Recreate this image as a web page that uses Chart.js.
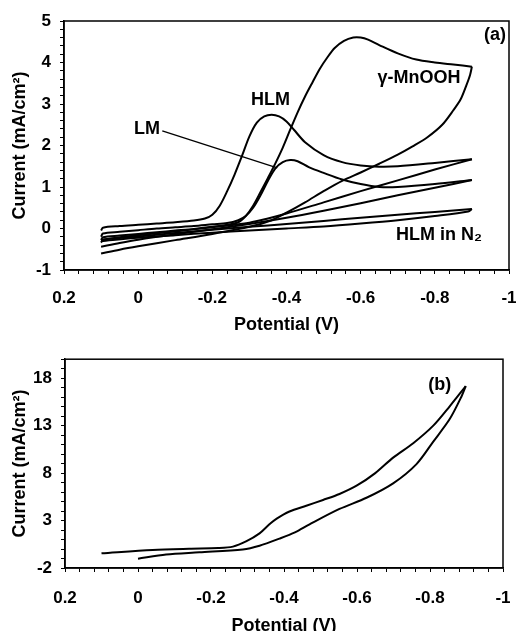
<!DOCTYPE html>
<html>
<head>
<meta charset="utf-8">
<script src="https://cdn.jsdelivr.net/npm/chart.js@4.4.1/dist/chart.umd.min.js"></script>
<style>
  html, body { margin: 0; padding: 0; background: #fff; overflow: hidden; width: 516px; height: 631px; }
  #wrapA { position: absolute; left: 0; top: 0; }
  #wrapB { position: absolute; left: 0; top: 340px; }
</style>
</head>
<body>
<div id="wrapA"><canvas id="chartA" width="516" height="340"></canvas></div>
<div id="wrapB"><canvas id="chartB" width="516" height="300"></canvas></div>
<script>
// ---- panel (a): cyclic voltammograms, potential (V) vs current (mA/cm2) ----
// HLM
const hlmCathV = [0.1, 0.095, 0.05, 0, -0.05, -0.1, -0.15, -0.18, -0.2, -0.22, -0.24, -0.26, -0.28, -0.3, -0.32, -0.34, -0.36, -0.38, -0.4, -0.42, -0.45, -0.5, -0.55, -0.6, -0.65, -0.7, -0.8, -0.9];
const hlmCathI = [-0.05, 0.02, 0.06, 0.09, 0.12, 0.15, 0.19, 0.24, 0.33, 0.55, 0.9, 1.3, 1.75, 2.22, 2.55, 2.7, 2.74, 2.7, 2.58, 2.38, 2.08, 1.77, 1.6, 1.52, 1.49, 1.5, 1.58, 1.67];
const hlmAnodV = [-0.9, -0.8, -0.7, -0.6, -0.5, -0.4, -0.35, -0.3, -0.2, -0.1, 0, 0.05, 0.1];
const hlmAnodI = [1.67, 1.42, 1.16, 0.9, 0.63, 0.36, 0.24, 0.14, 0.03, -0.07, -0.16, -0.21, -0.27];
// LM
const lmCathV = [0.1, 0.095, 0.05, 0, -0.05, -0.1, -0.15, -0.2, -0.24, -0.27, -0.29, -0.31, -0.33, -0.35, -0.37, -0.39, -0.41, -0.43, -0.46, -0.5, -0.55, -0.6, -0.65, -0.7, -0.8, -0.9];
const lmCathI = [-0.2, -0.12, -0.08, -0.04, 0.0, 0.03, 0.06, 0.1, 0.13, 0.2, 0.3, 0.5, 0.8, 1.15, 1.45, 1.6, 1.65, 1.62, 1.48, 1.34, 1.18, 1.07, 1.0, 1.0, 1.07, 1.17];
const lmAnodV = [-0.9, -0.8, -0.7, -0.6, -0.5, -0.4, -0.3, -0.2, -0.1, 0, 0.05, 0.1];
const lmAnodI = [1.17, 0.98, 0.8, 0.61, 0.43, 0.26, 0.11, -0.02, -0.14, -0.27, -0.35, -0.44];
// gamma-MnOOH
const mnCathV = [0.1, 0.095, 0.05, 0, -0.05, -0.1, -0.15, -0.2, -0.24, -0.27, -0.29, -0.31, -0.33, -0.35, -0.37, -0.39, -0.41, -0.43, -0.45, -0.47, -0.49, -0.51, -0.53, -0.555, -0.58, -0.6, -0.62, -0.65, -0.7, -0.75, -0.8, -0.85, -0.9];
const mnCathI = [-0.28, -0.21, -0.17, -0.13, -0.09, -0.05, -0.01, 0.04, 0.09, 0.15, 0.3, 0.55, 0.88, 1.22, 1.57, 1.95, 2.38, 2.8, 3.18, 3.52, 3.85, 4.12, 4.35, 4.52, 4.6, 4.6, 4.55, 4.42, 4.22, 4.07, 4.0, 3.95, 3.9];
const mnAnodV = [-0.9, -0.895, -0.885, -0.87, -0.85, -0.82, -0.78, -0.74, -0.7, -0.65, -0.6, -0.55, -0.5, -0.45, -0.4, -0.36, -0.3, -0.2, -0.1, 0, 0.05, 0.1];
const mnAnodI = [3.9, 3.7, 3.45, 3.12, 2.85, 2.5, 2.2, 1.98, 1.78, 1.56, 1.35, 1.15, 0.9, 0.63, 0.38, 0.2, 0.04, -0.13, -0.28, -0.43, -0.51, -0.6];
// HLM in N2
const n2CathV = [0.1, 0.095, 0, -0.1, -0.2, -0.3, -0.4, -0.5, -0.6, -0.7, -0.8, -0.9];
const n2CathI = [-0.34, -0.27, -0.19, -0.11, -0.03, 0.04, 0.11, 0.18, 0.26, 0.33, 0.4, 0.47];
const n2AnodV = [-0.9, -0.89, -0.8, -0.7, -0.6, -0.5, -0.4, -0.3, -0.2, -0.1, 0, 0.1];
const n2AnodI = [0.47, 0.41, 0.3, 0.2, 0.12, 0.05, 0.0, -0.05, -0.1, -0.16, -0.22, -0.3];
// leader line from the "LM" label to its curve
const lmLeaderV = [-0.065, -0.375];
const lmLeaderI = [2.35, 1.46];

// ---- panel (b) ----
const bCathV = [0.1, -0.04, -0.14, -0.22, -0.26, -0.296, -0.333, -0.36, -0.38, -0.415, -0.461, -0.507, -0.552, -0.6, -0.65, -0.699, -0.754, -0.809, -0.854, -0.898];
const bCathI = [-0.45, -0.1, 0.03, 0.1, 0.25, 0.8, 1.65, 2.6, 3.2, 3.95, 4.56, 5.17, 5.8, 6.7, 8.0, 9.63, 11.15, 13.0, 15.04, 17.17];
const bAnodV = [-0.898, -0.886, -0.854, -0.809, -0.763, -0.699, -0.626, -0.552, -0.47, -0.43, -0.388, -0.333, -0.287, -0.168, -0.077, 0];
const bAnodI = [17.17, 16.05, 13.69, 11.32, 8.95, 6.92, 5.4, 4.22, 2.6, 1.75, 1.1, 0.35, -0.04, -0.35, -0.58, -1.02];

// axis ticks
const xLabels = [0.2, 0, -0.2, -0.4, -0.6, -0.8, -1];
const yLabelsA = [-1, 0, 1, 2, 3, 4, 5];
const yLabelsB = [-2, 3, 8, 13, 18];

const FONT = "'Liberation Sans', Arial, sans-serif";

function pts(xs, ys) {
  return xs.map((x, i) => ({ x: x, y: ys[i] }));
}

function tickRange(min, max, step) {
  const out = [];
  const n = Math.round((max - min) / step);
  for (let i = 0; i <= n; i++) out.push(Math.round((min + i * step) * 1000) / 1000);
  return out;
}

function labelOf(majors) {
  return function (v) {
    const m = majors.find(t => Math.abs(t - v) < 1e-6);
    return m === undefined ? '' : String(m);
  };
}

function curve(xs, ys, w) {
  return {
    data: pts(xs, ys),
    borderColor: '#000',
    borderWidth: w || 2,
    pointRadius: 0,
    fill: false,
    tension: 0.3
  };
}

// box round the plot area
const frame = {
  id: 'frame',
  afterDatasetsDraw(chart) {
    const { ctx, chartArea: a } = chart;
    ctx.save();
    ctx.strokeStyle = '#000';
    ctx.lineWidth = 1.5;
    ctx.strokeRect(a.left, a.top, a.right - a.left, a.bottom - a.top);
    ctx.restore();
  }
};

// text notes placed in data coordinates
const notes = {
  id: 'notes',
  afterDraw(chart, args, opts) {
    const ctx = chart.ctx;
    const xs = chart.scales.x, ys = chart.scales.y;
    ctx.save();
    ctx.fillStyle = '#000';
    ctx.textAlign = 'center';
    ctx.textBaseline = 'middle';
    ctx.font = 'bold 18px ' + FONT;
    (opts.items || []).forEach(n => {
      ctx.fillText(n.text, xs.getPixelForValue(n.x), ys.getPixelForValue(n.y));
    });
    ctx.restore();
  }
};

function makeOptions(cfg) {
  return {
    responsive: false,
    animation: false,
    layout: { padding: cfg.padding },
    plugins: {
      legend: { display: false },
      tooltip: { enabled: false },
      notes: { items: cfg.notes }
    },
    scales: {
      x: {
        type: 'linear',
        reverse: true,
        min: -1,
        max: 0.2,
        afterBuildTicks: s => { s.ticks = tickRange(-1, 0.2, 0.04).map(v => ({ value: v })); },
        afterFit: s => { s.height = cfg.xHeight; },
        grid: { drawOnChartArea: false, tickLength: 4, color: '#000', tickWidth: 1 },
        border: { color: '#000', width: 1.5 },
        ticks: {
          autoSkip: false, maxRotation: 0, padding: cfg.xPad, color: '#000',
          font: { family: FONT, size: 17, weight: 'bold' },
          callback: labelOf(xLabels)
        },
        title: {
          display: true, text: 'Potential (V)', color: '#000',
          font: { family: FONT, size: 18, weight: 'bold' },
          padding: { top: 0, bottom: cfg.titlePad }
        }
      },
      y: {
        type: 'linear',
        min: cfg.yMin,
        max: cfg.yMax,
        afterBuildTicks: s => { s.ticks = tickRange(cfg.yMin, cfg.yMax, cfg.yMinor).map(v => ({ value: v })); },
        afterFit: s => { s.width = cfg.yWidth; },
        grid: { drawOnChartArea: false, tickLength: 4, color: '#000', tickWidth: 1 },
        border: { color: '#000', width: 1.5 },
        ticks: {
          autoSkip: false, padding: 9, color: '#000',
          font: { family: FONT, size: 17, weight: 'bold' },
          callback: labelOf(cfg.yLabels)
        },
        title: {
          display: true, text: 'Current (mA/cm²)', color: '#000',
          font: { family: FONT, size: 18, weight: 'bold' },
          padding: { top: 9, bottom: 0 }
        }
      }
    }
  };
}

new Chart(document.getElementById('chartA'), {
  type: 'line',
  data: {
    datasets: [
      curve(hlmCathV, hlmCathI), curve(hlmAnodV, hlmAnodI),
      curve(lmCathV, lmCathI), curve(lmAnodV, lmAnodI),
      curve(mnCathV, mnCathI), curve(mnAnodV, mnAnodI),
      curve(n2CathV, n2CathI), curve(n2AnodV, n2AnodI),
      Object.assign(curve(lmLeaderV, lmLeaderI, 1.3), { tension: 0 })
    ]
  },
  options: makeOptions({
    padding: { top: 21, right: 7, left: 0, bottom: 0 },
    xHeight: 70, xPad: 14, titlePad: 4,
    yMin: -1, yMax: 5, yMinor: 0.2, yWidth: 64, yLabels: yLabelsA,
    notes: [
      { text: 'HLM', x: -0.357, y: 3.1 },
      { text: 'LM', x: -0.024, y: 2.4 },
      { text: 'γ-MnOOH', x: -0.757, y: 3.63 },
      { text: 'HLM in N₂', x: -0.811, y: -0.16 },
      { text: '(a)', x: -0.962, y: 4.66 }
    ]
  }),
  plugins: [frame, notes]
});

new Chart(document.getElementById('chartB'), {
  type: 'line',
  data: {
    datasets: [curve(bCathV, bCathI), curve(bAnodV, bAnodI)]
  },
  options: makeOptions({
    padding: { top: 10, right: 13, left: 0, bottom: 0 },
    xHeight: 72, xPad: 16, titlePad: 3,
    yMin: -2, yMax: 20, yMinor: 1, yWidth: 65, yLabels: yLabelsB,
    notes: [
      { text: '(b)', x: -0.827, y: 17.27 }
    ]
  }),
  plugins: [frame, notes]
});
</script>
</body>
</html>
